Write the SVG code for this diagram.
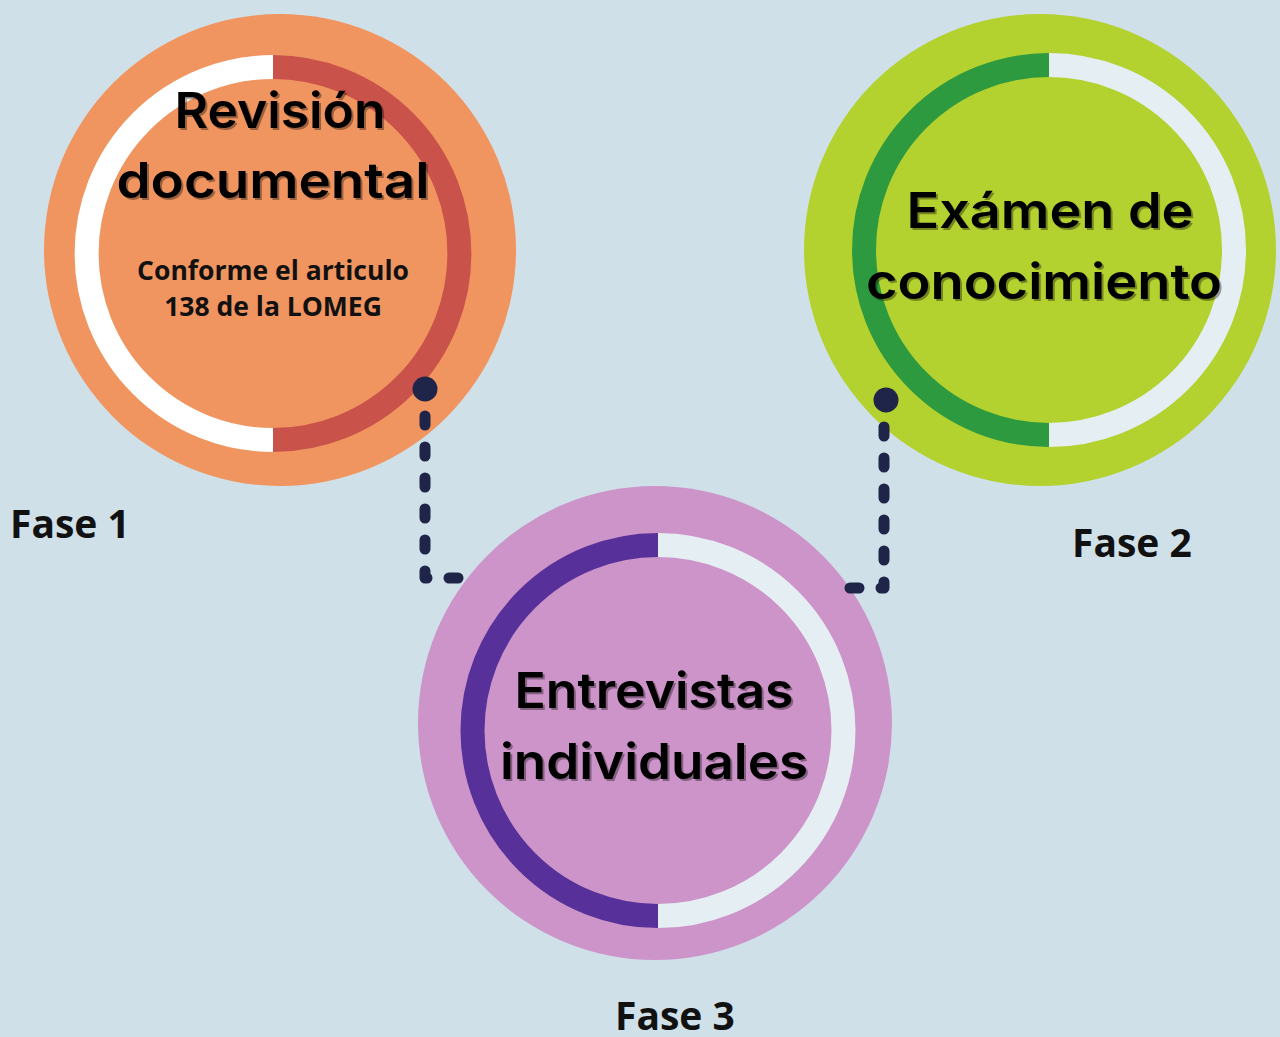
<svg xmlns="http://www.w3.org/2000/svg" width="1280" height="1037" viewBox="0 0 1280 1037">
<style>
.title{font-family:Inter,"DejaVu Sans","Liberation Sans",sans-serif;font-size:49px;font-weight:600;text-anchor:middle;fill:#000}
.shadow{fill:#000;opacity:0.35}
.sub{font-family:"Open Sans","Liberation Sans",sans-serif;font-size:26.5px;font-weight:700;text-anchor:middle;fill:#111}
.fase{font-family:"Open Sans","Liberation Sans",sans-serif;font-size:39px;font-weight:700;fill:#111}
.conn{fill:none;stroke:#1f2548;stroke-width:11;stroke-linecap:round;stroke-linejoin:round;stroke-dasharray:9 22}
.dot{fill:#1f2548}
.ring{fill:none;stroke-width:24}
</style>
<rect width="1280" height="1037" fill="#cfe0e9"/>
<g id="node-fase1">
<circle cx="280" cy="250" r="236" fill="#f0955f"/>
<path class="ring" d="M273,67 A185.5,185.5 0 0 0 273,440" stroke="#ffffff"/>
<path class="ring" d="M273,67 A185.5,185.5 0 0 1 273,440" stroke="#c9524a"/>
<text class="title shadow" x="282" y="130" textLength="211" lengthAdjust="spacingAndGlyphs">Revisión</text>
<text class="title" x="280" y="128" textLength="211" lengthAdjust="spacingAndGlyphs">Revisión</text>
<text class="title shadow" x="275" y="200" textLength="313" lengthAdjust="spacingAndGlyphs">documental</text>
<text class="title" x="273" y="198" textLength="313" lengthAdjust="spacingAndGlyphs">documental</text>
<text class="sub" x="273" y="280">Conforme el articulo</text>
<text class="sub" x="273" y="316">138 de la LOMEG</text>
</g>
<g id="node-fase2">
<circle cx="1040" cy="250" r="236" fill="#b3d12f"/>
<path class="ring" d="M1049,65 A185,185 0 0 0 1049,435" stroke="#2e9a40"/>
<path class="ring" d="M1049,65 A185,185 0 0 1 1049,435" stroke="#e5eef2"/>
<text class="title shadow" x="1052" y="230" textLength="287" lengthAdjust="spacingAndGlyphs">Exámen de</text>
<text class="title" x="1050" y="228" textLength="287" lengthAdjust="spacingAndGlyphs">Exámen de</text>
<text class="title shadow" x="1046" y="301" textLength="356" lengthAdjust="spacingAndGlyphs">conocimiento</text>
<text class="title" x="1044" y="299" textLength="356" lengthAdjust="spacingAndGlyphs">conocimiento</text>
</g>
<g id="node-fase3">
<circle cx="655" cy="723" r="237" fill="#cc94c8"/>
<path class="ring" d="M658,545 A185.5,185.5 0 0 0 658,916" stroke="#58309a"/>
<path class="ring" d="M658,545 A185.5,185.5 0 0 1 658,916" stroke="#e5eef2"/>
<text class="title shadow" x="656" y="710" textLength="279" lengthAdjust="spacingAndGlyphs">Entrevistas</text>
<text class="title" x="654" y="708" textLength="279" lengthAdjust="spacingAndGlyphs">Entrevistas</text>
<text class="title shadow" x="656" y="781" textLength="308" lengthAdjust="spacingAndGlyphs">individuales</text>
<text class="title" x="654" y="779" textLength="308" lengthAdjust="spacingAndGlyphs">individuales</text>
</g>
<g id="connectors">
<circle class="dot" cx="425" cy="389" r="12.5"/>
<path class="conn" d="M425,416 V578 H460"/>
<circle class="dot" cx="886" cy="400" r="12.5"/>
<path class="conn" d="M884,427 V588 H848"/>
</g>
<g id="labels">
<text class="fase" x="10" y="538">Fase 1</text>
<text class="fase" x="1072" y="557">Fase 2</text>
<text class="fase" x="615" y="1030">Fase 3</text>
</g>
</svg>
